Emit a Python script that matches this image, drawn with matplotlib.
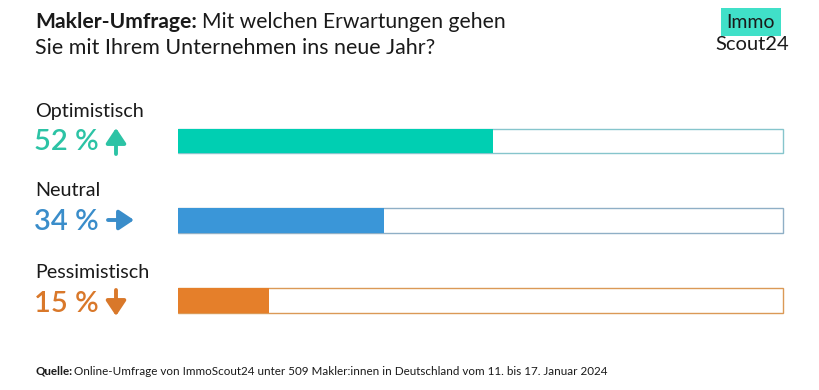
import matplotlib
matplotlib.use("Agg")
import matplotlib.pyplot as plt
from matplotlib.patches import FancyArrowPatch

plt.rcParams['font.family'] = ['Lato', 'DejaVu Sans']

kategorien = ["Optimistisch", "Neutral", "Pessimistisch"]
werte = [52, 34, 15]
pfeile = ["up", "right", "down"]
farben = ["#00CFB2", "#3A96D8", "#E57F2A"]
textfarben = ["#2CC3A5", "#3A8DCA", "#D9782A"]
randfarben = ["#86C5CC", "#8FAFC6", "#DB9956"]

W, H = 820, 390
fig = plt.figure(figsize=(W / 100, H / 100), dpi=100)
fig.patch.set_facecolor("white")

def fy(y):
    # pixel von oben -> figure fraction
    return 1 - y / H

def fx(x):
    return x / W

renderer = fig.canvas.get_renderer()

def mixed(x, y, bold, rest, size, gap=4, color="#1a1a1a"):
    t = fig.text(fx(x), fy(y), bold, fontsize=size, fontweight="bold", color=color, va="baseline")
    bb = t.get_window_extent(renderer)
    fig.text((bb.x1 + gap) / W, fy(y), rest, fontsize=size, color=color, va="baseline")

# titel
mixed(35, 28, "Makler-Umfrage:", "Mit welchen Erwartungen gehen", 15.2, gap=5)
fig.text(fx(35), fy(54), "Sie mit Ihrem Unternehmen ins neue Jahr?", fontsize=15.4, color="#1a1a1a", va="baseline")

# logo
fig.text(fx(751), fy(22), "Immo", fontsize=14, color="#1a1a1a", ha="center", va="center",
         bbox=dict(boxstyle="square,pad=0.28", fc="#40E0C8", ec="none"))
fig.text(fx(752), fy(45), "Scout24", fontsize=14.5, color="#1a1a1a", ha="center", va="center")

# balken
y_pos = [2, 1, 0]
ax = fig.add_axes([fx(178), 70 / H, 607 / W, 200 / H])
ax.barh(y_pos, [100] * 3, height=0.31, color="white", edgecolor=randfarben, linewidth=1)
ax.barh(y_pos, werte, height=0.31, color=farben, linewidth=0)
ax.set_xlim(0, 100.3)
ax.set_ylim(-0.245, 2.263)
ax.axis("off")

# beschriftung links
label_y = [112, 191, 272]
zahl_y = [142, 222, 304]
pfeil_x = [116, 121, 116]
for i in range(3):
    fig.text(fx(35), fy(label_y[i]), kategorien[i], fontsize=14.2, color="#1a1a1a", va="center")
    fig.text(fx(34), fy(zahl_y[i]), f"{werte[i]} %", fontsize=21, color=textfarben[i],
             va="center", fontweight="semibold")
    yb = H - zahl_y[i]
    if pfeile[i] == "up":
        start, end = (pfeil_x[i], yb - 12), (pfeil_x[i], yb + 14)
    elif pfeile[i] == "down":
        start, end = (pfeil_x[i], yb + 14), (pfeil_x[i], yb - 12)
    else:
        start, end = (pfeil_x[i] - 13, yb + 2), (pfeil_x[i] + 13, yb + 2)
    fig.add_artist(FancyArrowPatch(
        start, end, transform=None, arrowstyle="-|>,head_length=0.45,head_width=0.3",
        mutation_scale=20, color=textfarben[i], lw=2.8, shrinkA=0, shrinkB=0))

# quelle
mixed(35, 375, "Quelle:", "Online-Umfrage von ImmoScout24 unter 509 Makler:innen in Deutschland vom 11. bis 17. Januar 2024", 8.4, gap=2)

fig.savefig("out.png", dpi=100, facecolor="white")
